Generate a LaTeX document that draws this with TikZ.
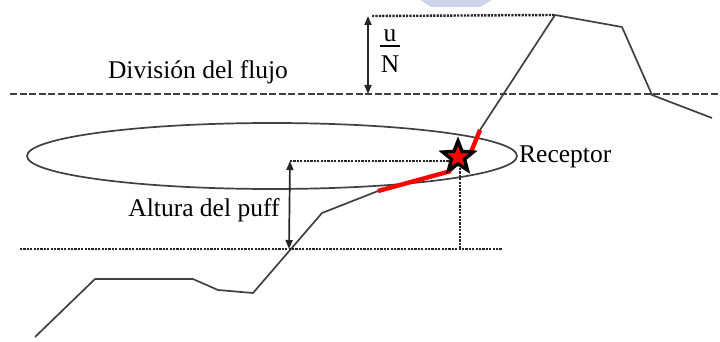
\documentclass[tikz,border=0pt]{standalone}
\usepackage{fontspec}
\setmainfont{Liberation Serif}
\usetikzlibrary{shapes.geometric,arrows.meta}
\definecolor{linegray}{HTML}{404040}
\definecolor{wmark}{HTML}{CDD4EA}
\tikzset{
  terrain/.style={draw=linegray, line width=1.7pt, line join=round},
  divline/.style={draw=black!75, line width=2.4pt, dash pattern=on 7pt off 2.6pt},
  dotline/.style={draw=black!85, line width=2.4pt, dash pattern=on 2.2pt off 1.2pt},
  redseg/.style={draw=red, line width=4.4pt},
  dimarrow/.style={draw=black!85, line width=1.7pt, {Triangle[length=9pt,width=7pt]}-{Triangle[length=9pt,width=7pt]}},
  lbl/.style={font=\fontsize{25.5}{27}\selectfont, inner sep=0pt, text=black},
  recstar/.style={star, star points=5, star point ratio=2.3, minimum size=32pt, inner sep=0pt, fill=red, draw=black, line width=3.4pt}
}
\begin{document}
\begin{tikzpicture}[x=1pt,y=-1pt]
\useasboundingbox (0,0) rectangle (720,342);
% watermark
\fill[wmark] (420,0) -- (492,0) -- (480,7) -- (431,7) -- cycle;
% coordinates of the terrain
\coordinate (t0) at (35,337);
\coordinate (t1) at (95,279);
\coordinate (t2) at (193,279);
\coordinate (t3) at (218,290);
\coordinate (t4) at (253,293);
\coordinate (t5) at (322,213);
\coordinate (r1) at (378,191);
\coordinate (r2) at (451,171);
\coordinate (r3) at (471,152);
\coordinate (r4) at (480,130);
\coordinate (t6) at (555,15);
\coordinate (t7) at (622,27);
\coordinate (t8) at (652,95);
\coordinate (t9) at (712,118);
% flow division line
\coordinate (dl) at (10,94);
\coordinate (dr) at (720,94);
\draw[divline] (dl) -- (dr);
% top dotted
\coordinate (topl) at (372,16);
\draw[dotline] (topl) -- (t6);
% ellipse (puff)
\node[draw=linegray, line width=1.7pt, ellipse, minimum width=490pt, minimum height=66pt, inner sep=0pt] (puff) at (272,156) {};
% terrain
\draw[terrain] (t0) -- (t1) -- (t2) -- (t3) -- (t4) -- (t5) -- (r1) -- (r2) -- (r3) -- (r4) -- (t6) -- (t7) -- (t8) -- (t9);
\draw[redseg] (r1) -- (r2);
\draw[redseg] (r3) -- (r4);
% dotted lines
\coordinate (midl) at (290,161);
\coordinate (lowl) at (20,249);
\coordinate (lowr) at (502,249);
\coordinate (lowm) at (460,249);
\coordinate (lowa) at (289,249);
\coordinate (recc) at (459,161);
\coordinate (recb) at (460,168);
\draw[dotline] (midl) -- (recc);
\draw[dotline] (lowl) -- (lowr);
\draw[dotline] (recb) -- (lowm);
% receptor star
\node[recstar] (rec) at (458,157) {};
% arrows
\draw[dimarrow] (midl) -- (lowa);
\coordinate (ua) at (368,16);
\coordinate (ub) at (368,94);
\draw[dimarrow] (ua) -- (ub);
% labels
\node[lbl] (div) at (198,72) {División del flujo};
\node[lbl, anchor=west] (recl) at (519,157) {Receptor};
\node[lbl] (alt) at (204,210) {Altura del puff};
\node[lbl] (fu) at (390,36) {u};
\node[lbl] (fn) at (390,64) {N};
\draw[black, line width=1.5pt] ([xshift=-10pt,yshift=-4pt]fu.south) -- ([xshift=10pt,yshift=-4pt]fu.south);
\end{tikzpicture}
\end{document}
